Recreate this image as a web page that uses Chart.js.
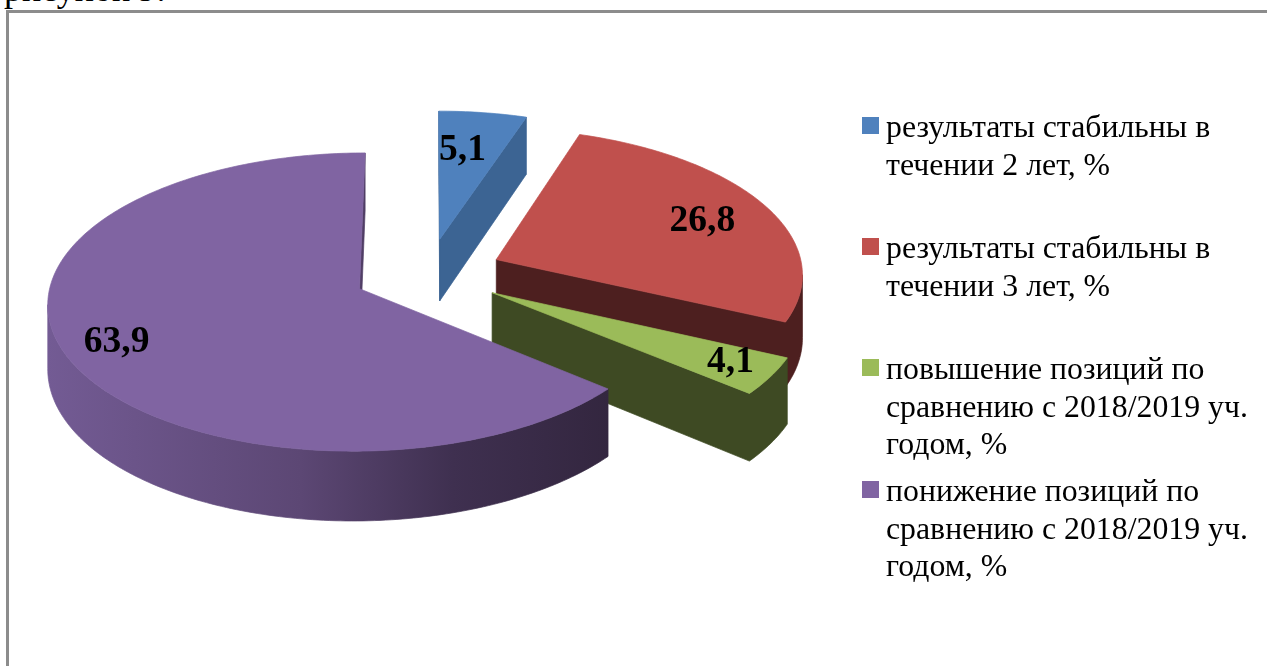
<!DOCTYPE html>
<html>
<head>
<meta charset="utf-8">
<title>Диаграмма</title>
<script src="https://cdn.jsdelivr.net/npm/chart.js@4"></script>
<style>
  html, body { margin: 0; padding: 0; background: #fff; overflow: hidden; }
  #wrap { position: relative; width: 1267px; height: 666px; overflow: hidden; }
  #frame { position: absolute; left: 6px; top: 10px; right: -10px; bottom: -10px;
           border-left: 3px solid #8c8c8c; border-top: 3px solid #8c8c8c; }
  #caption { position: absolute; left: 4px; top: -32px; font: 36px "Liberation Serif", serif; color: #000; white-space: nowrap; }
  canvas { position: absolute; left: 0; top: 0; }
</style>
</head>
<body>
<div id="wrap">
  <div id="frame"></div>
  <div id="caption">рисунок 9.</div>
  <canvas id="pieChart" width="1267" height="666"></canvas>
</div>
<script>
// подписи и значения
var categories = [
  ['результаты стабильны в', 'течении 2 лет, %'],
  ['результаты стабильны в', 'течении 3 лет, %'],
  ['повышение позиций по', 'сравнению с 2018/2019 уч.', 'годом, %'],
  ['понижение позиций по', 'сравнению с 2018/2019 уч.', 'годом, %']
];
var values = [5.1, 26.8, 4.1, 63.9];
var topColors = ['#4f81bd', '#c0504d', '#9bbb59', '#8064a2'];
var sideColors = ['#3c6493', '#4d1f1f', '#3e4a23', null];

// где стоит подпись внутри сектора: доля дуги и доля радиуса
var labelAngle = [0.37, 0.51, 0.40, 0.505];
var labelRadius = [0.70, 0.757, 0.85, 0.825];

var explode = 75;   // вынос секторов
var depth = 63;     // толщина
var tilt = 0.473;   // сплющивание
var persp = 3465;   // перспектива

function project(cx, cy, x, y, z) {
  var s = 1 / (1 - y / persp);
  return { x: cx + x * s, y: cy + y * tilt * s + (z || 0) * s };
}

function fillPoly(ctx, pts, color) {
  ctx.beginPath();
  pts.forEach(function (p, i) { i ? ctx.lineTo(p.x, p.y) : ctx.moveTo(p.x, p.y); });
  ctx.closePath();
  ctx.fillStyle = color;
  ctx.strokeStyle = color;
  ctx.lineWidth = 0.7;
  ctx.fill();
  ctx.stroke();
}

function slicePoints(arc) {
  var mid = (arc.startAngle + arc.endAngle) / 2;
  var ox = Math.cos(mid) * explode, oy = Math.sin(mid) * explode;
  var pts = [[ox, oy]];
  var n = Math.max(2, Math.ceil((arc.endAngle - arc.startAngle) * 60));
  for (var i = 0; i <= n; i++) {
    var a = arc.startAngle + (arc.endAngle - arc.startAngle) * i / n;
    pts.push([ox + Math.cos(a) * arc.outerRadius, oy + Math.sin(a) * arc.outerRadius]);
  }
  return pts;
}

var pie3d = {
  id: 'pie3d',
  // рисуем сектора сами, геометрию берем у Chart.js
  beforeDatasetDraw: function (chart, args) {
    var ctx = chart.ctx;
    args.meta.data.forEach(function (arc, idx) {
      var pts = slicePoints(arc);
      var top = pts.map(function (p) { return project(arc.x, arc.y, p[0], p[1], 0); });
      var bot = pts.map(function (p) { return project(arc.x, arc.y, p[0], p[1], depth); });
      var side = sideColors[idx];
      if (!side) {
        side = ctx.createLinearGradient(47, 0, 610, 0);
        side.addColorStop(0, '#735b94');
        side.addColorStop(0.45, '#5c4774');
        side.addColorStop(0.72, '#3f3050');
        side.addColorStop(1, '#33263f');
      }
      // стенки видны только там, где край идет влево; соседние куски сливаем в один
      var run = [];
      function flush() {
        if (run.length > 1) {
          fillPoly(ctx, run.map(function (i) { return top[i]; })
            .concat(run.slice().reverse().map(function (i) { return bot[i]; })), side);
        }
        run = [];
      }
      for (var i = 0; i < pts.length; i++) {
        var j = (i + 1) % pts.length;
        if (top[j].x < top[i].x) {
          if (!run.length) run.push(i);
          run.push(j);
        } else {
          flush();
        }
        if (j === 1 || j === 0) flush();
      }
      flush();
      fillPoly(ctx, top, topColors[idx]);
    });
    return false;
  },
  afterDraw: function (chart) {
    var ctx = chart.ctx;
    var arcs = chart.getDatasetMeta(0).data;
    ctx.save();

    // подписи значений
    ctx.fillStyle = '#000';
    ctx.font = 'bold 37.5px "Liberation Serif"';
    ctx.textAlign = 'center';
    ctx.textBaseline = 'middle';
    arcs.forEach(function (arc, idx) {
      var mid = (arc.startAngle + arc.endAngle) / 2;
      var a = arc.startAngle + (arc.endAngle - arc.startAngle) * labelAngle[idx];
      var r = arc.outerRadius * labelRadius[idx];
      var p = project(arc.x, arc.y,
        Math.cos(mid) * explode + Math.cos(a) * r,
        Math.sin(mid) * explode + Math.sin(a) * r, 0);
      ctx.fillText(String(values[idx]).replace('.', ','), p.x, p.y + 2);
    });

    // легенда
    ctx.font = '31.8px "Liberation Serif"';
    ctx.textAlign = 'left';
    ctx.textBaseline = 'alphabetic';
    var firstLine = [137, 258, 379, 501];
    categories.forEach(function (lines, idx) {
      ctx.fillStyle = topColors[idx];
      ctx.fillRect(862, firstLine[idx] - 20, 17, 17);
      ctx.fillStyle = '#000';
      lines.forEach(function (line, k) {
        ctx.fillText(line, 886, firstLine[idx] + k * 37.5);
      });
    });
    ctx.restore();
  }
};

new Chart(document.getElementById('pieChart').getContext('2d'), {
  type: 'pie',
  data: {
    labels: categories.map(function (c) { return c.join(' '); }),
    datasets: [{ data: values, backgroundColor: topColors, borderWidth: 0 }]
  },
  options: {
    responsive: false,
    animation: false,
    radius: 307,
    layout: { padding: { right: 411, bottom: 119 } },
    plugins: { legend: { display: false }, tooltip: { enabled: false } }
  },
  plugins: [pie3d]
});
</script>
</body>
</html>
